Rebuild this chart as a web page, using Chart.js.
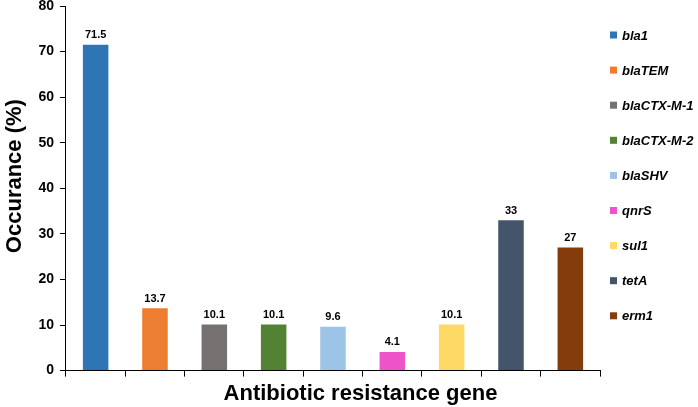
<!DOCTYPE html>
<html>
<head>
<meta charset="utf-8">
<script src="https://cdn.jsdelivr.net/npm/chart.js@4"></script>
<style>
  html, body { margin: 0; padding: 0; background: #fff; }
  #wrap { width: 698px; height: 407px; }
</style>
</head>
<body>
<div id="wrap"><canvas id="geneChart"></canvas></div>
<script>
const genes = ["bla1", "blaTEM", "blaCTX-M-1", "blaCTX-M-2", "blaSHV", "qnrS", "sul1", "tetA", "erm1"];
const occurrence = [71.5, 13.7, 10.1, 10.1, 9.6, 4.1, 10.1, 33, 27];
const barColors = ["#2E75B6", "#ED7D31", "#767171", "#548235", "#9DC3E6", "#EF53C8", "#FFD966", "#44546A", "#843C0C"];
const yTicks = [0, 10, 20, 30, 40, 50, 60, 70, 80];

const FONT = "'Liberation Sans', Arial, sans-serif";

// etiquetas de valor encima de cada barra
const valueLabels = {
    id: "valueLabels",
    afterDatasetsDraw(chart) {
        const ctx = chart.ctx;
        const meta = chart.getDatasetMeta(0);
        ctx.save();
        ctx.font = "bold 11px " + FONT;
        ctx.fillStyle = "#000";
        ctx.textAlign = "center";
        ctx.textBaseline = "bottom";
        meta.data.forEach((bar, i) => {
            ctx.fillText(String(occurrence[i]), bar.x, bar.y - 4);
        });
        ctx.restore();
    }
};

// leyenda a la derecha, una entrada por gen
const geneLegend = {
    id: "geneLegend",
    afterDraw(chart) {
        const ctx = chart.ctx;
        const x0 = chart.chartArea.right + 10;
        const y0 = 35, step = 35.1, box = 7;
        ctx.save();
        ctx.font = "italic bold 13px " + FONT;
        ctx.textAlign = "left";
        ctx.textBaseline = "middle";
        genes.forEach((g, i) => {
            const y = y0 + i * step;
            ctx.fillStyle = barColors[i];
            ctx.fillRect(x0, y - box / 2, box, box);
            ctx.fillStyle = "#000";
            ctx.fillText(g, x0 + box + 5, y + 1);
        });
        ctx.restore();
    }
};

new Chart(document.getElementById("geneChart"), {
    type: "bar",
    data: {
        labels: genes,
        datasets: [{
            label: "Occurance",
            data: occurrence,
            backgroundColor: barColors,
            borderWidth: 0,
            barPercentage: 0.43,
            categoryPercentage: 1
        }]
    },
    options: {
        responsive: true,
        maintainAspectRatio: false,
        animation: false,
        layout: { padding: { left: 0, right: 98, top: 0, bottom: 0 } },
        plugins: {
            tooltip: { enabled: false },
            legend: { display: false }
        },
        scales: {
            x: {
                offset: true,
                border: { display: true, color: "#000", width: 1 },
                grid: { offset: true, drawOnChartArea: false, drawTicks: true, tickLength: 6, color: "#000" },
                ticks: { display: false },
                title: {
                    display: true,
                    text: "         Antibiotic resistance gene",
                    color: "#000",
                    font: { family: FONT, size: 22, weight: "bold" },
                    padding: { top: 4, bottom: 0 }
                }
            },
            y: {
                min: 0,
                max: 80,
                border: { display: true, color: "#000", width: 1 },
                grid: { drawOnChartArea: false, drawTicks: true, tickLength: 6, color: "#000" },
                afterBuildTicks: axis => { axis.ticks = yTicks.map(v => ({ value: v })); },
                ticks: {
                    padding: 6,
                    color: "#000",
                    font: { family: FONT, size: 14, weight: "bold", lineHeight: 0.01 }
                },
                title: {
                    display: true,
                    text: "    Occurance (%)",
                    color: "#000",
                    font: { family: FONT, size: 22, weight: "bold" },
                    padding: { top: 2, bottom: 4 }
                }
            }
        }
    },
    plugins: [valueLabels, geneLegend]
});
</script>
</body>
</html>
